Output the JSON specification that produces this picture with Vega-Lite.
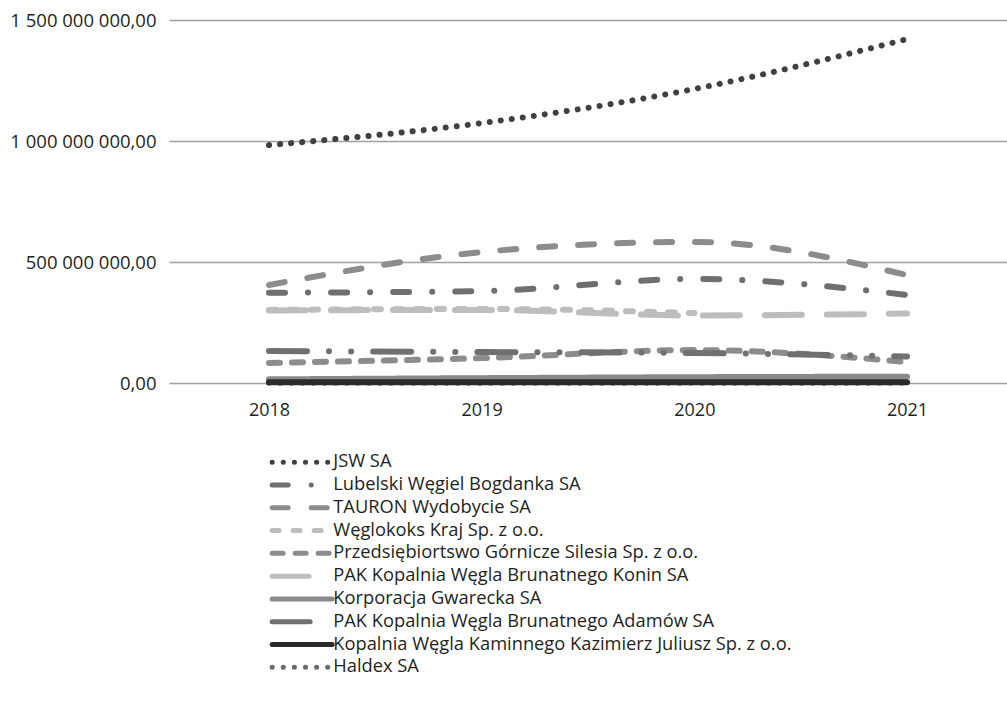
{
  "$schema": "https://vega.github.io/schema/vega-lite/v6.json",
  "width": 838,
  "height": 363,
  "autosize": {"type": "none"},
  "padding": {"left": 169, "top": 20, "right": 0, "bottom": 339},
  "background": "white",
  "config": {
    "locale": {"number": {"decimal": ",", "thousands": " ", "grouping": [3], "currency": ["", " zł"]}},
    "view": {"stroke": null},
    "font": "Open Sans"
  },
  "data": {
    "values": [
      {"firma": "Węglokoks Kraj Sp. z o.o.", "rok": "2018", "wartosc": 302000000},
      {"firma": "Węglokoks Kraj Sp. z o.o.", "rok": "2019", "wartosc": 306000000},
      {"firma": "Węglokoks Kraj Sp. z o.o.", "rok": "2020", "wartosc": 289000000},
      {"firma": "PAK Kopalnia Węgla Brunatnego Konin SA", "rok": "2018", "wartosc": 300000000},
      {"firma": "PAK Kopalnia Węgla Brunatnego Konin SA", "rok": "2019", "wartosc": 302000000},
      {"firma": "PAK Kopalnia Węgla Brunatnego Konin SA", "rok": "2020", "wartosc": 279000000},
      {"firma": "PAK Kopalnia Węgla Brunatnego Konin SA", "rok": "2021", "wartosc": 287000000},
      {"firma": "TAURON Wydobycie SA", "rok": "2018", "wartosc": 405000000},
      {"firma": "TAURON Wydobycie SA", "rok": "2019", "wartosc": 541000000},
      {"firma": "TAURON Wydobycie SA", "rok": "2020", "wartosc": 583000000},
      {"firma": "TAURON Wydobycie SA", "rok": "2021", "wartosc": 446000000},
      {"firma": "Lubelski Węgiel Bogdanka SA", "rok": "2018", "wartosc": 373000000},
      {"firma": "Lubelski Węgiel Bogdanka SA", "rok": "2019", "wartosc": 380000000},
      {"firma": "Lubelski Węgiel Bogdanka SA", "rok": "2020", "wartosc": 430000000},
      {"firma": "Lubelski Węgiel Bogdanka SA", "rok": "2021", "wartosc": 364000000},
      {"firma": "Przedsiębiortswo Górnicze Silesia Sp. z o.o.", "rok": "2018", "wartosc": 83000000},
      {"firma": "Przedsiębiortswo Górnicze Silesia Sp. z o.o.", "rok": "2019", "wartosc": 103000000},
      {"firma": "Przedsiębiortswo Górnicze Silesia Sp. z o.o.", "rok": "2020", "wartosc": 136000000},
      {"firma": "Przedsiębiortswo Górnicze Silesia Sp. z o.o.", "rok": "2021", "wartosc": 87000000},
      {"firma": "PAK Kopalnia Węgla Brunatnego Adamów SA", "rok": "2018", "wartosc": 132000000},
      {"firma": "PAK Kopalnia Węgla Brunatnego Adamów SA", "rok": "2019", "wartosc": 128000000},
      {"firma": "PAK Kopalnia Węgla Brunatnego Adamów SA", "rok": "2020", "wartosc": 124000000},
      {"firma": "PAK Kopalnia Węgla Brunatnego Adamów SA", "rok": "2021", "wartosc": 110000000},
      {"firma": "Korporacja Gwarecka SA", "rok": "2018", "wartosc": 15000000},
      {"firma": "Korporacja Gwarecka SA", "rok": "2019", "wartosc": 20000000},
      {"firma": "Korporacja Gwarecka SA", "rok": "2020", "wartosc": 24000000},
      {"firma": "Korporacja Gwarecka SA", "rok": "2021", "wartosc": 26000000},
      {"firma": "Haldex SA", "rok": "2018", "wartosc": 1000000},
      {"firma": "Haldex SA", "rok": "2019", "wartosc": 800000},
      {"firma": "Haldex SA", "rok": "2020", "wartosc": 600000},
      {"firma": "Haldex SA", "rok": "2021", "wartosc": 700000},
      {"firma": "Kopalnia Węgla Kaminnego Kazimierz Juliusz Sp. z o.o.", "rok": "2018", "wartosc": 3000000},
      {"firma": "Kopalnia Węgla Kaminnego Kazimierz Juliusz Sp. z o.o.", "rok": "2019", "wartosc": 3000000},
      {"firma": "Kopalnia Węgla Kaminnego Kazimierz Juliusz Sp. z o.o.", "rok": "2020", "wartosc": 3000000},
      {"firma": "Kopalnia Węgla Kaminnego Kazimierz Juliusz Sp. z o.o.", "rok": "2021", "wartosc": 3000000},
      {"firma": "JSW SA", "rok": "2018", "wartosc": 983000000},
      {"firma": "JSW SA", "rok": "2019", "wartosc": 1074000000},
      {"firma": "JSW SA", "rok": "2020", "wartosc": 1215000000},
      {"firma": "JSW SA", "rok": "2021", "wartosc": 1421000000}
    ]
  },
  "mark": {"type": "line", "interpolate": "monotone", "strokeCap": "round", "strokeWidth": 6},
  "encoding": {
    "x": {
      "field": "rok", "type": "ordinal",
      "scale": {"type": "point", "padding": 0.47},
      "axis": {"title": null, "labelAngle": 0, "domain": false, "ticks": false, "tickSize": 0, "labelPadding": 18, "labelFontSize": 18, "labelColor": "#231f20", "labelFont": "Open Sans", "grid": false}
    },
    "y": {
      "field": "wartosc", "type": "quantitative",
      "scale": {"domain": [0, 1500000000], "nice": false},
      "axis": {"title": null, "values": [0, 500000000, 1000000000, 1500000000], "format": ",.2f", "domain": false, "ticks": false, "tickSize": 0, "labelPadding": 13, "labelFontSize": 18.5, "labelColor": "#231f20", "labelFont": "Open Sans", "grid": true, "gridColor": "#a0a0a0", "gridWidth": 1.5}
    },
    "color": {
      "field": "firma", "type": "nominal",
      "scale": {
        "domain": ["JSW SA", "Lubelski Węgiel Bogdanka SA", "TAURON Wydobycie SA", "Węglokoks Kraj Sp. z o.o.", "Przedsiębiortswo Górnicze Silesia Sp. z o.o.", "PAK Kopalnia Węgla Brunatnego Konin SA", "Korporacja Gwarecka SA", "PAK Kopalnia Węgla Brunatnego Adamów SA", "Kopalnia Węgla Kaminnego Kazimierz Juliusz Sp. z o.o.", "Haldex SA"],
        "range": ["#404040", "#6f6f6f", "#8c8c8c", "#bdbdbd", "#8c8c8c", "#bdbdbd", "#8a8a8a", "#707070", "#2a2a2a", "#6a6a6a"]
      },
      "legend": {
        "title": null, "orient": "none", "legendX": 124, "legendY": 433, "padding": 0,
        "symbolType": "M-6,0H6", "symbolSize": 100, "symbolStrokeWidth": 5, "symbolOffset": 0,
        "labelFontSize": 18.3, "labelFont": "Open Sans", "labelColor": "#231f20", "labelOffset": 22,
        "rowPadding": 1.8, "labelLimit": 700,
        "encode": {"symbols": {"update": {"strokeCap": {"value": "round"}}}}
      }
    },
    "strokeDash": {
      "field": "firma", "type": "nominal",
      "scale": {
        "domain": ["JSW SA", "Lubelski Węgiel Bogdanka SA", "TAURON Wydobycie SA", "Węglokoks Kraj Sp. z o.o.", "Przedsiębiortswo Górnicze Silesia Sp. z o.o.", "PAK Kopalnia Węgla Brunatnego Konin SA", "Korporacja Gwarecka SA", "PAK Kopalnia Węgla Brunatnego Adamów SA", "Kopalnia Węgla Kaminnego Kazimierz Juliusz Sp. z o.o.", "Haldex SA"],
        "range": [[0.1, 11], [16, 23, 0.1, 23], [16, 23], [7, 14], [11, 12], [37, 25], [1, 0], [38, 22, 0.1, 22, 0.1, 22], [1, 0], [0.1, 11]]
      }
    }
  }
}
